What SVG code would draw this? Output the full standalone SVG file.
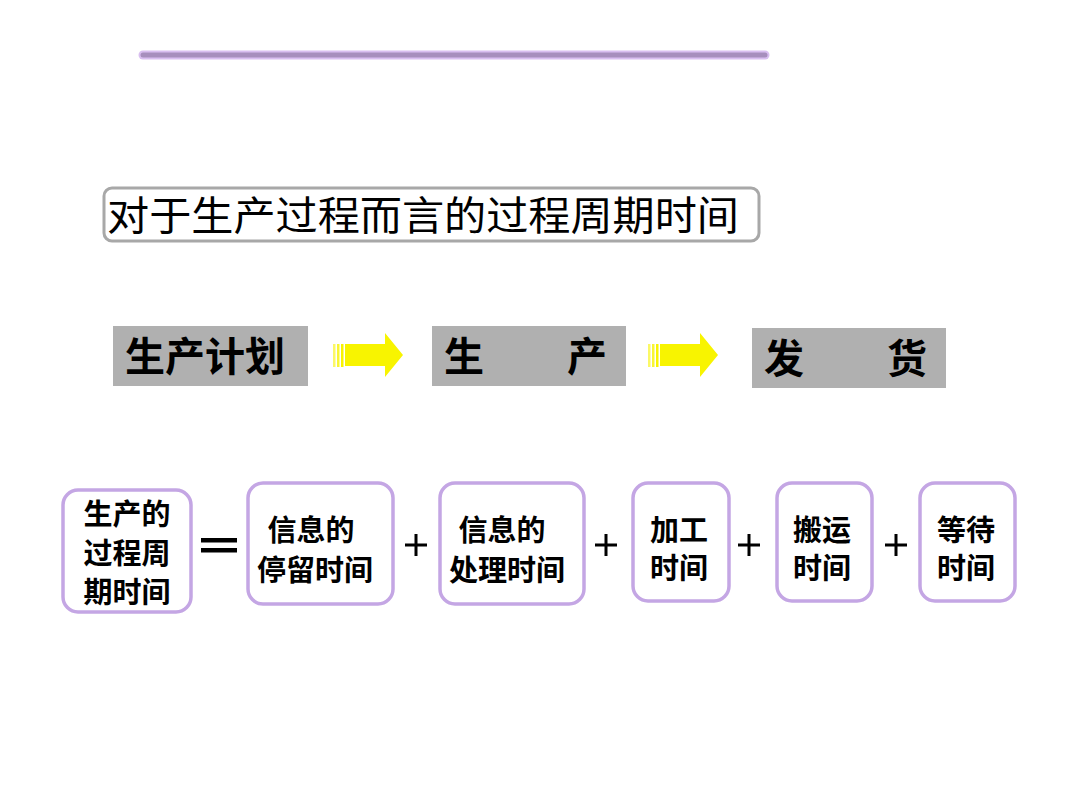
<svg xmlns="http://www.w3.org/2000/svg" width="1080" height="810" viewBox="0 0 1080 810">
<style>
.cjk{font-family:"Noto Sans CJK SC","Noto Sans CJK TC",sans-serif;fill:#000}
.gray{fill:#b0b0b0}
.pbox{fill:#fff;stroke:#c4a6e4;stroke-width:3.5}
.bt{font-size:29px;font-weight:bold;text-anchor:middle}
.big{font-size:40px;font-weight:bold}
.plus{stroke:#000;stroke-width:3;fill:none}
.arrow{fill:#f8f400}
</style>
<defs>
<g id="arrow">
<rect class="arrow" x="0" y="11" width="2.5" height="23" opacity="0.6"/>
<rect class="arrow" x="4" y="11" width="2.5" height="23" opacity="0.8"/>
<rect class="arrow" x="8" y="11" width="2.5" height="23"/>
<path class="arrow" d="M12 11 H52 V0 L70 22 L52 44 V33 H12 Z"/>
</g>
<path id="plus" class="plus" d="M-11 0 H11 M0 -11 V11"/>
</defs>
<rect width="1080" height="810" fill="#fff"/>
<line x1="143" y1="55" x2="765" y2="55" stroke="#d9bff0" stroke-width="9" stroke-linecap="round"/>
<line x1="143" y1="55" x2="765" y2="55" stroke="#a78fbd" stroke-width="5" stroke-linecap="round"/>
<g id="title">
<rect x="104" y="188" width="655" height="53" rx="8" fill="#fff" stroke="#a8a8a8" stroke-width="3"/>
<text class="cjk" x="107" y="230" font-size="40" textLength="632" lengthAdjust="spacingAndGlyphs">对于生产过程而言的过程周期时间</text>
</g>
<g id="plan">
<rect class="gray" x="113" y="326" width="195" height="60"/>
<text class="cjk big" x="125" y="371">生产计划</text>
</g>
<g id="produce">
<rect class="gray" x="432" y="326" width="194" height="60"/>
<text class="cjk big" x="444" y="371">生</text>
<text class="cjk big" x="567" y="371">产</text>
</g>
<g id="ship">
<rect class="gray" x="752" y="328" width="194" height="60"/>
<text class="cjk big" x="764" y="373">发</text>
<text class="cjk big" x="887" y="373">货</text>
</g>
<g id="connectors">
<use href="#arrow" x="333" y="333"/>
<use href="#arrow" x="648" y="333"/>
<rect x="201" y="538" width="36" height="4.5" fill="#000"/>
<rect x="201" y="548" width="36" height="4.5" fill="#000"/>
<use href="#plus" x="416" y="545"/>
<use href="#plus" x="606" y="545"/>
<use href="#plus" x="749" y="545"/>
<use href="#plus" x="896" y="545"/>
</g>
<g id="cycle">
<rect class="pbox" x="63" y="490" width="128" height="122" rx="15"/>
<text class="cjk bt" x="127" y="525" font-size="27">生产的<tspan x="127" dy="39">过程周</tspan><tspan x="127" dy="39">期时间</tspan></text>
</g>
<g id="info-stay">
<rect class="pbox" x="248" y="483" width="145" height="121" rx="15"/>
<text class="cjk bt" x="311" y="541">信息的<tspan x="315" dy="40">停留时间</tspan></text>
</g>
<g id="info-process">
<rect class="pbox" x="440" y="483" width="144" height="121" rx="15"/>
<text class="cjk bt" x="502" y="541">信息的<tspan x="507" dy="40">处理时间</tspan></text>
</g>
<g id="machining">
<rect class="pbox" x="633" y="483" width="96" height="118" rx="15"/>
<text class="cjk bt" x="679" y="541">加工<tspan x="679" dy="38">时间</tspan></text>
</g>
<g id="transport">
<rect class="pbox" x="777" y="483" width="95" height="118" rx="15"/>
<text class="cjk bt" x="822" y="541">搬运<tspan x="822" dy="38">时间</tspan></text>
</g>
<g id="waiting">
<rect class="pbox" x="920" y="483" width="95" height="118" rx="15"/>
<text class="cjk bt" x="966" y="541">等待<tspan x="966" dy="38">时间</tspan></text>
</g>
</svg>
